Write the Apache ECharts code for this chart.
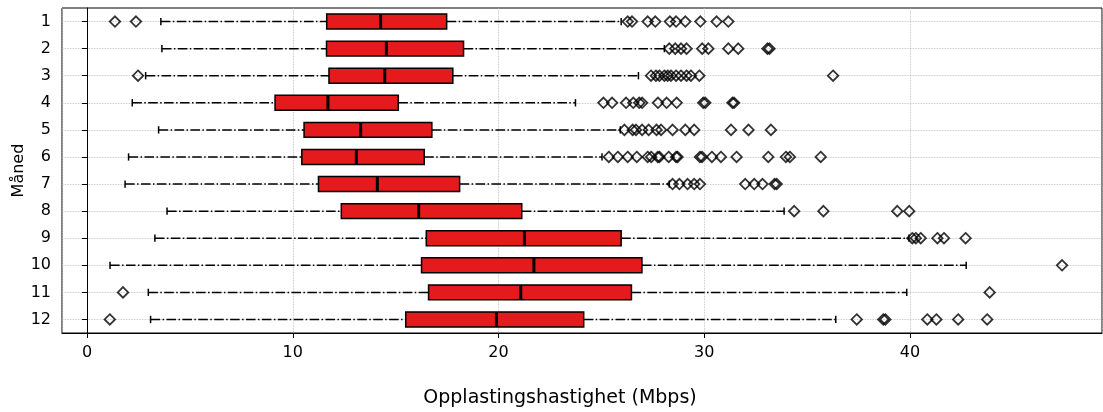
<!DOCTYPE html>
<html>
<head>
<meta charset="utf-8">
<script src="https://cdn.jsdelivr.net/npm/echarts@6/dist/echarts.min.js"></script>
<style>
html,body{margin:0;padding:0;background:#fff;}
#chart{width:1103px;height:412px;}
</style>
</head>
<body>
<div id="chart"></div>
<script>
const months = ['1','2','3','4','5','6','7','8','9','10','11','12'];
const whiskerLow  = [3.59, 3.64, 2.85, 2.20, 3.48, 2.02, 1.85, 3.89, 3.30, 1.12, 2.98, 3.09];
const q1          = [11.65, 11.64, 11.76, 9.14, 10.55, 10.44, 11.25, 12.36, 16.49, 16.26, 16.60, 15.49];
const medians     = [14.27, 14.55, 14.47, 11.71, 13.30, 13.09, 14.11, 16.12, 21.26, 21.72, 21.08, 19.90];
const q3          = [17.48, 18.30, 17.78, 15.13, 16.76, 16.39, 18.11, 21.13, 25.96, 26.97, 26.46, 24.14];
const whiskerHigh = [25.96, 28.06, 26.80, 23.74, 25.92, 25.03, 28.30, 33.88, 39.95, 42.73, 39.84, 36.39];
const outliers = [
  [1.36, 2.38, 26.28, 26.49, 27.25, 27.62, 28.33, 28.63, 29.08, 29.81, 30.60, 31.17],
  [28.30, 28.59, 28.87, 29.14, 29.90, 30.20, 31.17, 31.65, 33.07, 33.17],
  [2.48, 27.41, 27.65, 27.82, 28.06, 28.22, 28.38, 28.63, 28.87, 29.14, 29.35, 29.76, 36.26],
  [25.10, 25.52, 26.20, 26.55, 26.84, 26.98, 27.75, 28.17, 28.66, 29.95, 30.05, 31.37, 31.45],
  [26.12, 26.52, 26.68, 26.98, 27.30, 27.68, 27.90, 28.46, 29.08, 29.51, 31.30, 32.15, 33.24],
  [25.36, 25.80, 26.28, 26.72, 27.25, 27.42, 27.74, 27.82, 28.27, 28.63, 28.70, 29.79, 29.89, 30.37, 30.81, 31.57, 33.11, 33.97, 34.16, 35.66],
  [28.46, 28.79, 29.19, 29.51, 29.79, 31.99, 32.43, 32.83, 33.42, 33.52],
  [34.37, 35.79, 39.38, 39.96],
  [40.11, 40.28, 40.52, 41.33, 41.65, 42.70],
  [47.39],
  [1.75, 43.87],
  [1.11, 37.41, 38.70, 38.80, 40.84, 41.28, 42.34, 43.75]
];
const xTitle = 'Opplastingshastighet (Mbps)';
const yTitle = 'Måned';

const boxData = months.map((m, i) => [whiskerLow[i], q1[i], medians[i], q3[i], whiskerHigh[i], i]);
const outlierData = [];
outliers.forEach((arr, i) => arr.forEach(v => outlierData.push([v, i])));

const FONT = 'DejaVu Sans';
const chart = echarts.init(document.getElementById('chart'), null, {renderer: 'canvas'});

function renderBox(params, api) {
  const yi = api.value(5);
  const pLow = api.coord([api.value(0), yi]);
  const pQ1 = api.coord([api.value(1), yi]);
  const pMed = api.coord([api.value(2), yi]);
  const pQ3 = api.coord([api.value(3), yi]);
  const pHigh = api.coord([api.value(4), yi]);
  const band = api.size([0, 1])[1];
  const bh = band * 0.55;
  const ch = band * 0.27;
  const y = pMed[1];
  const dash = {stroke: '#000', lineWidth: 1.5, lineDash: [9.6, 2.4, 1.5, 2.4], fill: null};
  const solid = {stroke: '#000', lineWidth: 1.5, fill: null};
  return {
    type: 'group',
    children: [
      {type: 'line', shape: {x1: pLow[0], y1: y, x2: pQ1[0], y2: y}, style: dash},
      {type: 'line', shape: {x1: pQ3[0], y1: y, x2: pHigh[0], y2: y}, style: dash},
      {type: 'line', shape: {x1: pLow[0], y1: y - ch / 2, x2: pLow[0], y2: y + ch / 2}, style: solid},
      {type: 'line', shape: {x1: pHigh[0], y1: y - ch / 2, x2: pHigh[0], y2: y + ch / 2}, style: solid},
      {type: 'rect', shape: {x: pQ1[0], y: y - bh / 2, width: pQ3[0] - pQ1[0], height: bh},
        style: {fill: '#e41a1c', stroke: '#000', lineWidth: 1.5}},
      {type: 'line', shape: {x1: pMed[0], y1: y - bh / 2, x2: pMed[0], y2: y + bh / 2},
        style: {stroke: '#000', lineWidth: 3}}
    ]
  };
}

chart.setOption({
  animation: false,
  backgroundColor: '#fff',
  textStyle: {fontFamily: FONT},
  grid: {left: 62, right: 1, top: 8, bottom: 79, containLabel: false, outerBoundsMode: 'none',
    show: true, borderColor: '#000', borderWidth: 1, backgroundColor: 'transparent'},
  xAxis: {
    type: 'value',
    min: -1.215,
    max: 49.33,
    minInterval: 10,
    maxInterval: 10,
    name: xTitle,
    nameLocation: 'middle',
    nameGap: 56,
    nameMoveOverlap: false,
    nameTextStyle: {fontFamily: FONT, fontSize: 19, color: '#000', padding: [0, 44, 0, 0]},
    axisLine: {show: true, lineStyle: {color: '#000', width: 1}},
    axisTick: {show: true, length: 5, lineStyle: {color: '#000', width: 1}},
    axisLabel: {fontFamily: FONT, fontSize: 16, color: '#000', margin: 12, showMinLabel: false, showMaxLabel: false},
    splitLine: {show: true, lineStyle: {type: 'dotted', color: '#b8b8b8', width: 0.8}}
  },
  yAxis: {
    type: 'category',
    data: months,
    inverse: true,
    name: yTitle,
    nameLocation: 'middle',
    nameGap: 35,
    nameMoveOverlap: false,
    nameRotate: 90,
    nameTextStyle: {fontFamily: FONT, fontSize: 16, color: '#000'},
    axisLine: {show: true, lineStyle: {color: '#000', width: 1}},
    axisTick: {show: true, alignWithLabel: true, length: 5, lineStyle: {color: '#000', width: 1}},
    axisLabel: {fontFamily: FONT, fontSize: 16, color: '#000', margin: 11},
    splitLine: {show: true, alignWithLabel: true, lineStyle: {type: 'dotted', color: '#b8b8b8', width: 0.8}}
  },
  series: [
    {
      type: 'custom',
      renderItem: renderBox,
      data: boxData,
      encode: {x: [0, 1, 2, 3, 4], y: 5},
      z: 2
    },
    {
      type: 'scatter',
      data: outlierData,
      symbol: 'diamond',
      symbolSize: 10.5,
      itemStyle: {color: 'rgba(255,255,255,0)', borderColor: '#000', borderWidth: 1.8},
      z: 3
    }
  ]
});
</script>
</body>
</html>
